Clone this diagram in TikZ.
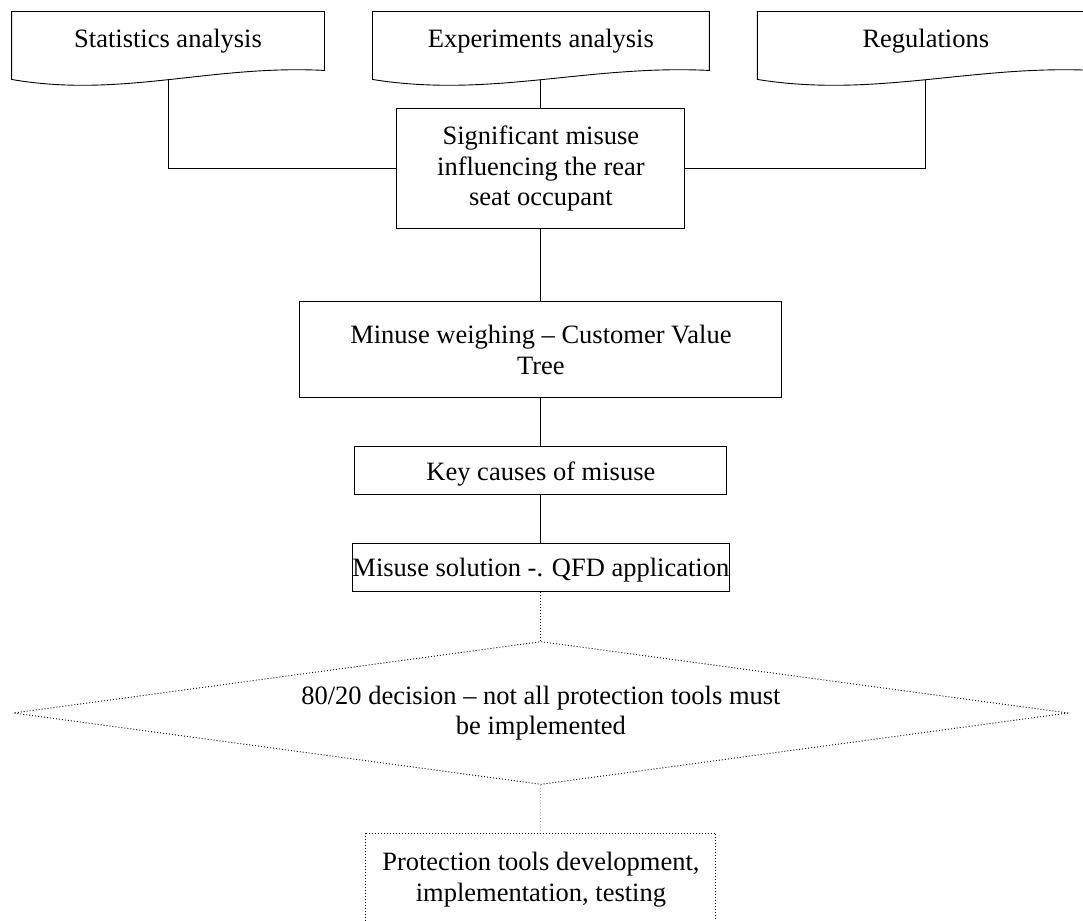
\documentclass[tikz,border=0pt]{standalone}
\usepackage{fontspec}
\setmainfont{Liberation Serif}
\usetikzlibrary{shapes,positioning,calc}

\begin{document}
\begin{tikzpicture}[x=1pt, y=-1pt, line width=0.9pt, font=\fontsize{26.5}{30.5}\selectfont]
\tikzstyle{source}=[shape=rectangle, minimum height=58pt, minimum width=336pt, inner sep=0pt]
\tikzstyle{process}=[draw, shape=rectangle, align=center, inner sep=0pt]
\tikzstyle{decision}=[draw, shape=diamond, aspect=7.4, inner sep=0pt, align=center, dash pattern=on 1pt off 2pt]
\tikzstyle{result}=[draw, shape=rectangle, align=center, inner xsep=0pt, inner ysep=19pt, text depth=90pt, dash pattern=on 1pt off 2pt]
\useasboundingbox (0,0) rectangle (1083,920);

\node[source, minimum width=312pt] (1) at (168,41) {Statistics analysis};
\node[source] (2) [right=48pt of 1]{Experiments analysis};
\node[source] (3) [right=48pt of 2]{Regulations};
\node[process, minimum width=288pt, minimum height=120pt] (4) [below=38pt of 2]{Significant misuse\\influencing the rear\\seat occupant};
\node[process, minimum width=482pt, minimum height=96pt] (5) [below=72pt of 4]{Minuse weighing – Customer Value\\Tree};
\node[process, minimum width=372pt, minimum height=48pt, text depth=0pt] (6) [below=48pt of 5]{Key causes of misuse};
\node[process, minimum width=372pt, minimum height=48pt, text depth=0pt] (7) [below=48pt of 6]{Misuse solution -. QFD application};
\node[decision, minimum width=1055pt, minimum height=143pt] (8) [below=49pt of 7]{80/20 decision – not all protection tools must\\be implemented};
\node[result, minimum width=350pt] (9) [below=48pt of 8]{Protection tools development,\\implementation, testing};

% wavy document outlines
\foreach \n in {1,2,3}
  \draw (\n.north west) -- (\n.north east) -- (\n.south east)
    .. controls ($(\n.south east)!0.36!(\n.south west)+(0,6pt)$) and ($(\n.south west)!0.35!(\n.south east)+(0,-28pt)$) .. ([yshift=-9pt]\n.south west) -- cycle;

\draw ([yshift=-9.4pt]1.south) |- (4.west);
\draw ([yshift=-9.4pt]2.south) -- (4.north);
\draw ([yshift=-9.4pt]3.south) |- (4.east);
\draw (4.south) -- (5.north);
\draw (5.south) -- (6.north);
\draw (6.south) -- (7.north);
\draw[dash pattern=on 1pt off 2pt] (7.south) -- (8.north);
\draw[gray!70, dash pattern=on 1pt off 2pt] (8.south) -- (9.north);

\end{tikzpicture}
\end{document}
